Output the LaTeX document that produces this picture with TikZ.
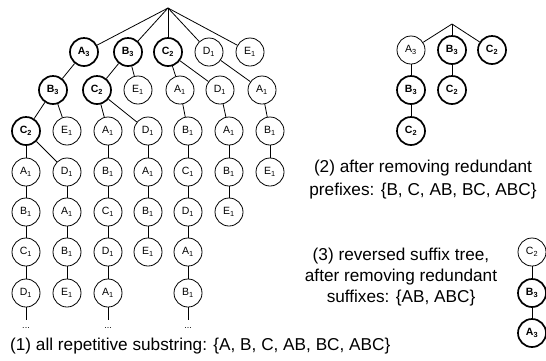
\documentclass[tikz,border=0pt]{standalone}
\usepackage{fontspec}
\setmainfont{Liberation Sans}
\newcommand{\nlab}[2]{#1\textsubscript{#2}}
\begin{document}
\begin{tikzpicture}[x=1pt,y=-1pt,
  nd/.style={circle,draw,line width=0.8pt,minimum size=28pt,inner sep=0pt,
    font=\fontsize{10.5}{12}\selectfont},
  bnd/.style={nd,line width=1.7pt,font=\fontsize{10.5}{12}\selectfont\bfseries},
  ed/.style={line width=0.8pt},
  captext/.style={font=\fontsize{17.2}{23}\selectfont,align=center,inner sep=0pt},
  dots/.style={font=\fontsize{9}{10}\selectfont,inner sep=0pt}]
\useasboundingbox (0,0) rectangle (546,360);

% (1) full tree of repetitive substrings
\coordinate (r) at (168,8);
\node[bnd] (a1) at (84,52)  {\nlab{A}{3}};
\node[bnd] (a2) at (128,52) {\nlab{B}{3}};
\node[bnd] (a3) at (168,52) {\nlab{C}{2}};
\node[nd]  (a4) at (209,52) {\nlab{D}{1}};
\node[nd]  (a5) at (250,52) {\nlab{E}{1}};

\node[bnd] (b1) at (53,90)  {\nlab{B}{3}};
\node[bnd] (b2) at (97,90)  {\nlab{C}{2}};
\node[nd]  (b3) at (138,90) {\nlab{E}{1}};
\node[nd]  (b4) at (180,90) {\nlab{A}{1}};
\node[nd]  (b5) at (220,90) {\nlab{D}{1}};
\node[nd]  (b6) at (262,90) {\nlab{A}{1}};

\node[bnd] (c1) at (26,131)  {\nlab{C}{2}};
\node[nd]  (c2) at (67,131)  {\nlab{E}{1}};
\node[nd]  (c3) at (108,131) {\nlab{A}{1}};
\node[nd]  (c4) at (148,131) {\nlab{D}{1}};
\node[nd]  (c5) at (188,131) {\nlab{B}{1}};
\node[nd]  (c6) at (229,131) {\nlab{A}{1}};
\node[nd]  (c7) at (270,131) {\nlab{B}{1}};

\node[nd] (d1) at (26,172)  {\nlab{A}{1}};
\node[nd] (d2) at (67,172)  {\nlab{D}{1}};
\node[nd] (d3) at (108,172) {\nlab{B}{1}};
\node[nd] (d4) at (148,172) {\nlab{A}{1}};
\node[nd] (d5) at (188,172) {\nlab{C}{1}};
\node[nd] (d6) at (229,172) {\nlab{B}{1}};
\node[nd] (d7) at (270,172) {\nlab{E}{1}};

\node[nd] (e1) at (26,212)  {\nlab{B}{1}};
\node[nd] (e2) at (67,212)  {\nlab{A}{1}};
\node[nd] (e3) at (108,212) {\nlab{C}{1}};
\node[nd] (e4) at (148,212) {\nlab{B}{1}};
\node[nd] (e5) at (188,212) {\nlab{D}{1}};
\node[nd] (e6) at (229,212) {\nlab{E}{1}};

\node[nd] (f1) at (26,252)  {\nlab{C}{1}};
\node[nd] (f2) at (67,252)  {\nlab{B}{1}};
\node[nd] (f3) at (108,252) {\nlab{D}{1}};
\node[nd] (f4) at (148,252) {\nlab{E}{1}};
\node[nd] (f5) at (188,252) {\nlab{A}{1}};

\node[nd] (g1) at (26,293)  {\nlab{D}{1}};
\node[nd] (g2) at (67,293)  {\nlab{E}{1}};
\node[nd] (g3) at (108,293) {\nlab{A}{1}};
\node[nd] (g5) at (188,293) {\nlab{B}{1}};

\coordinate (h1) at (26,320);
\coordinate (h3) at (108,320);
\coordinate (h5) at (188,320);
\node[dots] (k1) at (26,328)  {...};
\node[dots] (k3) at (108,328) {...};
\node[dots] (k5) at (188,328) {...};

\foreach \n in {a1,a2,a3,a4,a5} \draw[ed] (r) -- (\n);
\foreach \p/\c in {a1/b1,a2/b2,a2/b3,a3/b4,a3/b5,a4/b6,
                   b1/c1,b1/c2,b2/c3,b2/c4,b4/c5,b5/c6,b6/c7,
                   c1/d1,c1/d2,c3/d3,c4/d4,c5/d5,c6/d6,c7/d7,
                   d1/e1,d2/e2,d3/e3,d4/e4,d5/e5,d6/e6,
                   e1/f1,e2/f2,e3/f3,e4/f4,e5/f5,
                   f1/g1,f2/g2,f3/g3,f5/g5,
                   g1/h1,g3/h3,g5/h5}
  \draw[ed] (\p) -- (\c);

\node[captext,anchor=base west] (t1cap) at (10,350) {(1) all repetitive substring: \{A, B, C, AB, BC, ABC\}};

% (2) tree after removing redundant prefixes
\coordinate (rr) at (452,24);
\node[nd]  (p1) at (411,50) {\nlab{A}{3}};
\node[bnd] (p2) at (452,50) {\nlab{B}{3}};
\node[bnd] (p3) at (492,50) {\nlab{C}{2}};
\node[bnd] (q1) at (411,90) {\nlab{B}{3}};
\node[bnd] (q2) at (452,90) {\nlab{C}{2}};
\node[bnd] (s1) at (411,131) {\nlab{C}{2}};
\foreach \n in {p1,p2,p3} \draw[ed] (rr) -- (\n);
\draw[ed] (p1) -- (q1);
\draw[ed] (p2) -- (q2);
\draw[ed] (q1) -- (s1);
\node[captext] (t2cap) at (423,180) {(2) after removing redundant\\prefixes: \{B, C, AB, BC, ABC\}};

% (3) reversed suffix tree
\node[nd]  (u1) at (532,252) {\nlab{C}{2}};
\node[bnd] (u2) at (532,293) {\nlab{B}{3}};
\node[bnd] (u3) at (532,333) {\nlab{A}{3}};
\draw[ed] (u1) -- (u2);
\draw[ed] (u2) -- (u3);
\node[captext,font=\fontsize{17.2}{21}\selectfont] (t3cap) at (401,277) {(3) reversed suffix tree,\\after removing redundant\\suffixes: \{AB, ABC\}};
\end{tikzpicture}
\end{document}
